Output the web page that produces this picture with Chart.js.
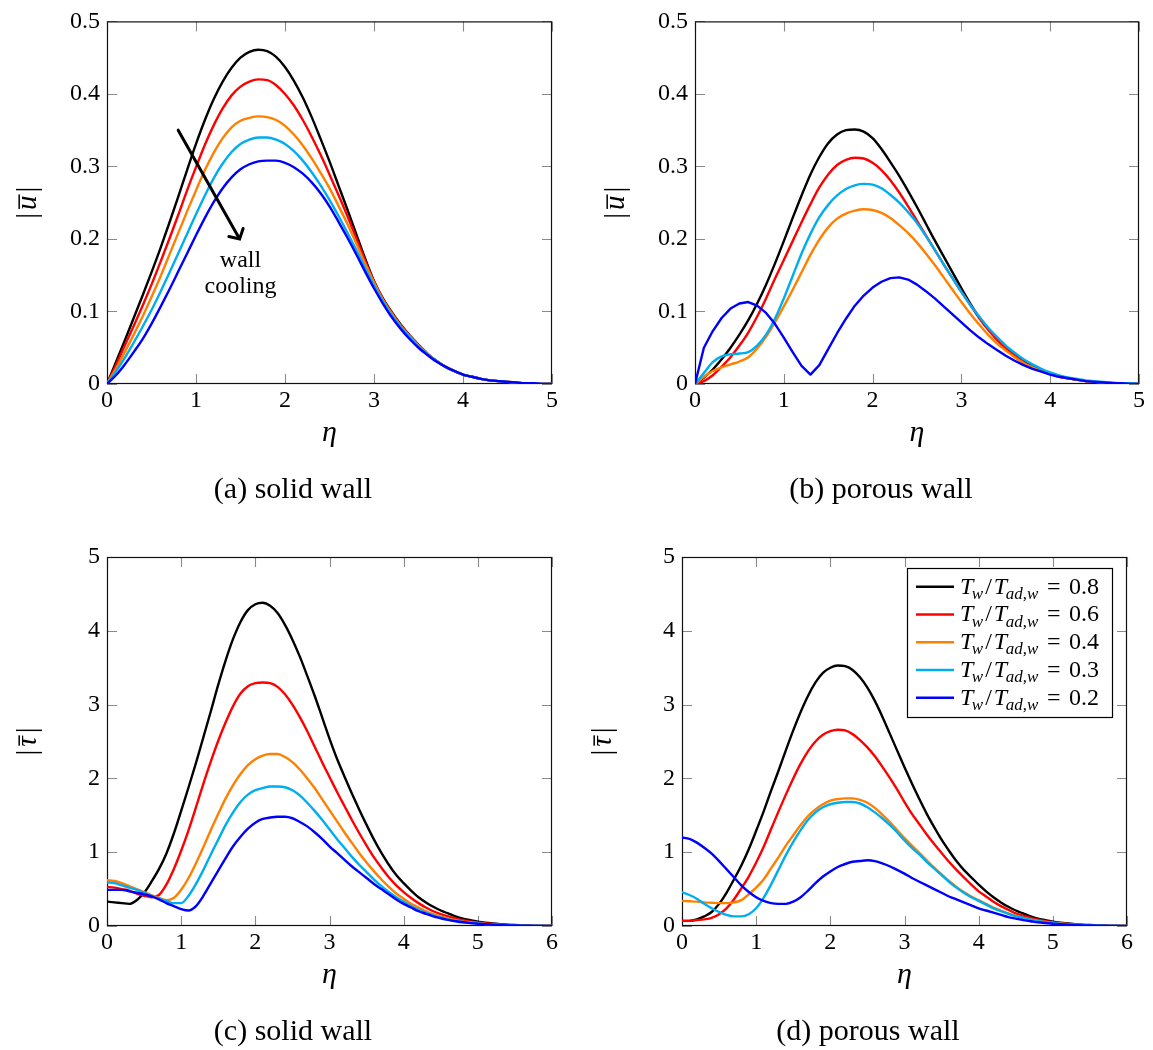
<!DOCTYPE html>
<html>
<head>
<meta charset="utf-8">
<title>Mean disturbance profiles</title>
<script src="https://cdn.jsdelivr.net/npm/chart.js@4.4.1/dist/chart.umd.min.js"></script>
<style>
  html, body { margin: 0; padding: 0; background: #ffffff; }
  #figure { position: relative; width: 1153px; height: 1050px; overflow: hidden; background: #ffffff; }
  #figure canvas { position: absolute; }
</style>
</head>
<body>
<div id="figure">
  <canvas id="panelA" width="576" height="520" style="left:0px;top:0px;width:576px;height:520px"></canvas>
  <canvas id="panelB" width="577" height="520" style="left:576px;top:0px;width:577px;height:520px"></canvas>
  <canvas id="panelC" width="576" height="530" style="left:0px;top:520px;width:576px;height:530px"></canvas>
  <canvas id="panelD" width="577" height="530" style="left:576px;top:520px;width:577px;height:530px"></canvas>
</div>
<script>
// ---------------------------------------------------------------------------
// Wall-normal coordinate grids
// ---------------------------------------------------------------------------
const etaU = [0, 0.1, 0.2, 0.3, 0.4, 0.5, 0.6, 0.7, 0.8, 0.9, 1.0,
  1.1, 1.2, 1.3, 1.4, 1.5, 1.6, 1.7, 1.8, 1.9, 2.0,
  2.1, 2.2, 2.3, 2.4, 2.5, 2.6, 2.7, 2.8, 2.9, 3.0,
  3.1, 3.2, 3.3, 3.4, 3.5, 3.6, 3.7, 3.8, 3.9, 4.0,
  4.1, 4.2, 4.3, 4.4, 4.5, 4.6, 4.7, 4.8, 4.9, 5.0];

const etaT = [0, 0.1, 0.2, 0.3, 0.4, 0.5, 0.6, 0.7, 0.8, 0.9, 1.0,
  1.1, 1.2, 1.3, 1.4, 1.5, 1.6, 1.7, 1.8, 1.9, 2.0,
  2.1, 2.2, 2.3, 2.4, 2.5, 2.6, 2.7, 2.8, 2.9, 3.0,
  3.1, 3.2, 3.3, 3.4, 3.5, 3.6, 3.7, 3.8, 3.9, 4.0,
  4.1, 4.2, 4.3, 4.4, 4.5, 4.6, 4.7, 4.8, 4.9, 5.0,
  5.1, 5.2, 5.3, 5.4, 5.5, 5.6, 5.7, 5.8, 5.9, 6.0];

// Wall-temperature ratios T_w / T_ad,w (one curve per ratio)
const ratios = ['0.8', '0.6', '0.4', '0.3', '0.2'];

// ---------------------------------------------------------------------------
// (a) |u|, solid wall
// ---------------------------------------------------------------------------
const uSolid08 = [0, 0.030, 0.060, 0.091, 0.122, 0.154, 0.187, 0.222, 0.258, 0.295, 0.331,
  0.364, 0.393, 0.417, 0.436, 0.450, 0.458, 0.461, 0.459, 0.451, 0.437,
  0.418, 0.395, 0.368, 0.338, 0.307, 0.274, 0.241, 0.207, 0.173, 0.142,
  0.118, 0.099, 0.082, 0.067, 0.054, 0.042, 0.032, 0.024, 0.018, 0.013,
  0.010, 0.007, 0.005, 0.004, 0.003, 0.002, 0.001, 0.001, 0, 0];
const uSolid06 = [0, 0.026, 0.053, 0.080, 0.108, 0.137, 0.168, 0.200, 0.233, 0.267, 0.299,
  0.330, 0.357, 0.380, 0.398, 0.410, 0.417, 0.420, 0.419, 0.412, 0.400,
  0.384, 0.364, 0.341, 0.316, 0.289, 0.261, 0.232, 0.201, 0.170, 0.141,
  0.117, 0.098, 0.081, 0.067, 0.054, 0.042, 0.032, 0.024, 0.018, 0.013,
  0.010, 0.007, 0.005, 0.004, 0.003, 0.002, 0.001, 0.001, 0, 0];
const uSolid04 = [0, 0.021, 0.044, 0.068, 0.093, 0.120, 0.148, 0.178, 0.208, 0.238, 0.267,
  0.295, 0.319, 0.339, 0.354, 0.363, 0.367, 0.369, 0.368, 0.364, 0.356,
  0.344, 0.329, 0.311, 0.291, 0.270, 0.246, 0.221, 0.194, 0.166, 0.140,
  0.116, 0.097, 0.080, 0.066, 0.053, 0.042, 0.032, 0.024, 0.018, 0.013,
  0.010, 0.007, 0.005, 0.004, 0.003, 0.002, 0.001, 0.001, 0, 0];
const uSolid03 = [0, 0.017, 0.036, 0.057, 0.079, 0.102, 0.127, 0.153, 0.180, 0.207, 0.234,
  0.260, 0.284, 0.304, 0.320, 0.331, 0.337, 0.340, 0.340, 0.337, 0.331,
  0.321, 0.308, 0.292, 0.274, 0.254, 0.232, 0.209, 0.185, 0.160, 0.136,
  0.114, 0.095, 0.079, 0.065, 0.052, 0.041, 0.032, 0.024, 0.018, 0.013,
  0.010, 0.007, 0.005, 0.004, 0.003, 0.002, 0.001, 0.001, 0, 0];
const uSolid02 = [0, 0.012, 0.027, 0.044, 0.062, 0.083, 0.106, 0.130, 0.155, 0.180, 0.205,
  0.229, 0.251, 0.270, 0.285, 0.296, 0.303, 0.307, 0.308, 0.308, 0.305,
  0.299, 0.290, 0.278, 0.263, 0.245, 0.224, 0.202, 0.179, 0.155, 0.132,
  0.111, 0.092, 0.076, 0.062, 0.050, 0.040, 0.031, 0.024, 0.018, 0.013,
  0.010, 0.007, 0.005, 0.004, 0.003, 0.002, 0.001, 0.001, 0, 0];

// ---------------------------------------------------------------------------
// (b) |u|, porous wall
// ---------------------------------------------------------------------------
const uPorous08 = [0, 0.009, 0.020, 0.034, 0.050, 0.068, 0.088, 0.111, 0.137, 0.166, 0.197,
  0.229, 0.260, 0.289, 0.313, 0.332, 0.344, 0.350, 0.351, 0.348, 0.339,
  0.324, 0.306, 0.287, 0.266, 0.244, 0.221, 0.198, 0.176, 0.154, 0.132,
  0.111, 0.092, 0.076, 0.062, 0.050, 0.040, 0.031, 0.024, 0.019, 0.014,
  0.011, 0.008, 0.006, 0.004, 0.003, 0.002, 0.001, 0.001, 0, 0];
const uPorous06 = [0, 0.004, 0.012, 0.024, 0.037, 0.053, 0.071, 0.093, 0.118, 0.145, 0.171,
  0.197, 0.223, 0.248, 0.271, 0.289, 0.302, 0.309, 0.312, 0.311, 0.305,
  0.295, 0.281, 0.264, 0.245, 0.225, 0.205, 0.185, 0.165, 0.146, 0.127,
  0.109, 0.091, 0.075, 0.061, 0.049, 0.039, 0.030, 0.023, 0.018, 0.014,
  0.010, 0.008, 0.006, 0.004, 0.003, 0.002, 0.001, 0.001, 0, 0];
const uPorous04 = [0, 0.010, 0.018, 0.023, 0.027, 0.031, 0.037, 0.049, 0.065, 0.085, 0.107,
  0.130, 0.154, 0.178, 0.199, 0.216, 0.228, 0.235, 0.239, 0.241, 0.240,
  0.236, 0.229, 0.219, 0.208, 0.195, 0.180, 0.164, 0.147, 0.130, 0.113,
  0.097, 0.082, 0.068, 0.056, 0.046, 0.037, 0.029, 0.023, 0.018, 0.014,
  0.010, 0.008, 0.006, 0.004, 0.003, 0.002, 0.001, 0.001, 0, 0];
const uPorous03 = [0, 0.015, 0.030, 0.038, 0.041, 0.042, 0.044, 0.053, 0.068, 0.090, 0.118,
  0.149, 0.180, 0.207, 0.230, 0.247, 0.260, 0.269, 0.274, 0.276, 0.275,
  0.270, 0.261, 0.250, 0.237, 0.222, 0.204, 0.185, 0.165, 0.146, 0.127,
  0.109, 0.093, 0.078, 0.065, 0.053, 0.043, 0.034, 0.027, 0.021, 0.016,
  0.012, 0.009, 0.007, 0.005, 0.004, 0.003, 0.002, 0.001, 0.001, 0];
const uPorous02 = [0, 0.050, 0.073, 0.091, 0.104, 0.111, 0.113, 0.108, 0.098, 0.083, 0.064,
  0.044, 0.025, 0.013, 0.026, 0.048, 0.070, 0.090, 0.108, 0.122, 0.133,
  0.141, 0.146, 0.147, 0.144, 0.137, 0.128, 0.118, 0.107, 0.096, 0.085,
  0.074, 0.064, 0.055, 0.047, 0.039, 0.032, 0.026, 0.021, 0.017, 0.013,
  0.010, 0.008, 0.006, 0.004, 0.003, 0.002, 0.001, 0.001, 0, 0];

// ---------------------------------------------------------------------------
// (c) |tau|, solid wall
// ---------------------------------------------------------------------------
const tSolid08 = [0.33, 0.32, 0.31, 0.30, 0.35, 0.45, 0.60, 0.77, 0.98, 1.25, 1.56,
  1.88, 2.21, 2.56, 2.91, 3.27, 3.60, 3.89, 4.12, 4.28, 4.36,
  4.38, 4.34, 4.24, 4.08, 3.88, 3.65, 3.39, 3.12, 2.83, 2.54,
  2.27, 2.03, 1.80, 1.58, 1.37, 1.17, 0.99, 0.83, 0.69, 0.58,
  0.48, 0.39, 0.32, 0.26, 0.21, 0.17, 0.13, 0.10, 0.08, 0.06,
  0.045, 0.034, 0.025, 0.018, 0.013, 0.009, 0.006, 0.004, 0.002, 0.001];
const tSolid06 = [0.53, 0.52, 0.50, 0.48, 0.44, 0.41, 0.39, 0.42, 0.56, 0.77, 1.02,
  1.30, 1.61, 1.93, 2.23, 2.51, 2.76, 2.98, 3.15, 3.25, 3.29,
  3.30, 3.29, 3.24, 3.14, 3.00, 2.83, 2.64, 2.43, 2.22, 2.02,
  1.82, 1.63, 1.44, 1.26, 1.09, 0.93, 0.79, 0.66, 0.55, 0.46,
  0.38, 0.31, 0.25, 0.20, 0.16, 0.13, 0.10, 0.08, 0.06, 0.047,
  0.036, 0.027, 0.020, 0.015, 0.011, 0.008, 0.005, 0.003, 0.002, 0.001];
const tSolid04 = [0.62, 0.61, 0.58, 0.54, 0.50, 0.46, 0.42, 0.38, 0.35, 0.38, 0.49,
  0.65, 0.85, 1.07, 1.30, 1.52, 1.73, 1.91, 2.06, 2.18, 2.26,
  2.31, 2.33, 2.33, 2.29, 2.22, 2.12, 2.00, 1.87, 1.72, 1.57,
  1.42, 1.27, 1.13, 0.99, 0.86, 0.74, 0.63, 0.53, 0.44, 0.37,
  0.30, 0.25, 0.20, 0.16, 0.13, 0.10, 0.08, 0.06, 0.05, 0.037,
  0.028, 0.021, 0.015, 0.011, 0.008, 0.006, 0.004, 0.003, 0.002, 0.001];
const tSolid03 = [0.59, 0.58, 0.55, 0.52, 0.49, 0.45, 0.41, 0.37, 0.34, 0.31, 0.31,
  0.41, 0.57, 0.76, 0.97, 1.17, 1.37, 1.54, 1.68, 1.78, 1.84,
  1.87, 1.89, 1.89, 1.88, 1.84, 1.77, 1.67, 1.56, 1.44, 1.31,
  1.18, 1.06, 0.94, 0.83, 0.73, 0.63, 0.54, 0.46, 0.39, 0.33,
  0.27, 0.22, 0.18, 0.145, 0.115, 0.09, 0.07, 0.055, 0.043, 0.033,
  0.025, 0.019, 0.014, 0.010, 0.007, 0.005, 0.004, 0.003, 0.002, 0.001];
const tSolid02 = [0.49, 0.49, 0.49, 0.47, 0.45, 0.43, 0.40, 0.36, 0.31, 0.27, 0.23,
  0.21, 0.27, 0.41, 0.58, 0.75, 0.92, 1.08, 1.21, 1.32, 1.40,
  1.45, 1.47, 1.48, 1.48, 1.46, 1.41, 1.35, 1.27, 1.18, 1.08,
  0.99, 0.90, 0.81, 0.73, 0.65, 0.57, 0.50, 0.43, 0.36, 0.30,
  0.25, 0.20, 0.165, 0.13, 0.105, 0.083, 0.065, 0.05, 0.039, 0.03,
  0.023, 0.017, 0.013, 0.009, 0.007, 0.005, 0.003, 0.002, 0.001, 0.001];

// ---------------------------------------------------------------------------
// (d) |tau|, porous wall
// ---------------------------------------------------------------------------
const tPorous08 = [0.07, 0.07, 0.09, 0.13, 0.19, 0.30, 0.45, 0.63, 0.82, 1.04, 1.29,
  1.55, 1.83, 2.10, 2.38, 2.65, 2.90, 3.12, 3.30, 3.43, 3.50,
  3.53, 3.52, 3.47, 3.37, 3.23, 3.05, 2.84, 2.61, 2.38, 2.15,
  1.93, 1.72, 1.52, 1.34, 1.17, 1.02, 0.88, 0.76, 0.66, 0.56,
  0.47, 0.39, 0.32, 0.26, 0.21, 0.17, 0.13, 0.10, 0.08, 0.06,
  0.045, 0.034, 0.025, 0.018, 0.013, 0.009, 0.006, 0.004, 0.002, 0.001];
const tPorous06 = [0.07, 0.07, 0.08, 0.09, 0.11, 0.16, 0.24, 0.36, 0.51, 0.67, 0.86,
  1.07, 1.31, 1.55, 1.78, 2.00, 2.20, 2.37, 2.50, 2.59, 2.64,
  2.66, 2.65, 2.60, 2.52, 2.42, 2.30, 2.16, 2.01, 1.85, 1.68,
  1.52, 1.38, 1.24, 1.11, 0.99, 0.87, 0.76, 0.66, 0.56, 0.47,
  0.40, 0.33, 0.27, 0.22, 0.17, 0.14, 0.11, 0.085, 0.065, 0.05,
  0.038, 0.028, 0.021, 0.015, 0.011, 0.008, 0.005, 0.003, 0.002, 0.001];
const tPorous04 = [0.34, 0.335, 0.33, 0.32, 0.315, 0.31, 0.31, 0.32, 0.35, 0.43, 0.52,
  0.63, 0.78, 0.93, 1.09, 1.23, 1.37, 1.49, 1.58, 1.65, 1.70,
  1.72, 1.73, 1.73, 1.71, 1.67, 1.60, 1.51, 1.41, 1.30, 1.19,
  1.09, 0.99, 0.89, 0.79, 0.70, 0.61, 0.53, 0.46, 0.40, 0.35,
  0.30, 0.25, 0.21, 0.17, 0.14, 0.11, 0.09, 0.07, 0.055, 0.043,
  0.033, 0.025, 0.018, 0.013, 0.009, 0.006, 0.004, 0.003, 0.002, 0.001];
const tPorous03 = [0.46, 0.42, 0.37, 0.30, 0.24, 0.19, 0.15, 0.13, 0.13, 0.16, 0.24,
  0.38, 0.56, 0.76, 0.96, 1.14, 1.30, 1.44, 1.54, 1.61, 1.65,
  1.67, 1.68, 1.68, 1.66, 1.61, 1.54, 1.46, 1.37, 1.27, 1.16,
  1.06, 0.97, 0.87, 0.78, 0.69, 0.60, 0.52, 0.45, 0.39, 0.34,
  0.29, 0.24, 0.20, 0.165, 0.135, 0.11, 0.085, 0.068, 0.053, 0.041,
  0.031, 0.023, 0.017, 0.012, 0.009, 0.006, 0.004, 0.003, 0.002, 0.001];
const tPorous02 = [1.20, 1.18, 1.13, 1.06, 0.98, 0.88, 0.77, 0.66, 0.55, 0.46, 0.39,
  0.34, 0.31, 0.30, 0.30, 0.33, 0.39, 0.48, 0.58, 0.67, 0.74,
  0.80, 0.84, 0.87, 0.88, 0.89, 0.88, 0.85, 0.81, 0.76, 0.71,
  0.65, 0.60, 0.55, 0.50, 0.45, 0.40, 0.36, 0.32, 0.28, 0.24,
  0.21, 0.18, 0.15, 0.12, 0.10, 0.08, 0.065, 0.05, 0.04, 0.03,
  0.023, 0.017, 0.013, 0.009, 0.007, 0.005, 0.003, 0.002, 0.001, 0.001];

// Tick labels
const uTickLabels = ['0', '0.1', '0.2', '0.3', '0.4', '0.5'];
const tauTickLabels = ['0', '1', '2', '3', '4', '5'];
const etaTickLabelsU = ['0', '1', '2', '3', '4', '5'];
const etaTickLabelsT = ['0', '1', '2', '3', '4', '5', '6'];

// "wall cooling" note in panel (a), in data coordinates
const coolArrowTail = [0.8, 0.35];
const coolArrowHead = [1.49, 0.20];
const coolNoteLines = ['wall', 'cooling'];
const coolNoteAnchor = [1.5, 0.162, 0.125];   // eta, baseline of line 1, baseline of line 2

// ---------------------------------------------------------------------------
// Styling
// ---------------------------------------------------------------------------
const lineColors = ['#000000', '#ff0000', '#ff8000', '#00aeef', '#0000ff'];
const SERIF = '"Liberation Serif", "DejaVu Serif", serif';
const TICK_FONT = 24;
const TITLE_FONT = 30;
const CAPTION_FONT = 30;

function fontStr(size, italic) {
  return (italic ? 'italic ' : '') + size + 'px ' + SERIF;
}

// |q| with an overbar, written bottom-to-top beside the y axis
function drawYTitle(ctx, cx, cy, sym) {
  ctx.save();
  ctx.translate(cx, cy);
  ctx.rotate(-Math.PI / 2);
  const fs = 29;
  ctx.fillStyle = '#000';
  ctx.textBaseline = 'alphabetic';
  ctx.font = fontStr(fs, false);
  const wb = ctx.measureText('|').width;
  ctx.font = fontStr(fs, true);
  const ws = ctx.measureText(sym).width;
  const gap = 3;
  const total = wb * 2 + ws + gap * 2;
  const base = fs * 0.27;
  let x0 = -total / 2;
  ctx.font = fontStr(fs, false);
  ctx.fillText('|', x0, base);
  x0 += wb + gap;
  ctx.font = fontStr(fs, true);
  ctx.fillText(sym, x0, base);
  ctx.fillRect(x0 + 1, base - fs * 0.60, ws, 1.5);
  x0 += ws + gap;
  ctx.font = fontStr(fs, false);
  ctx.fillText('|', x0, base);
  ctx.restore();
}

// T_w / T_{ad,w} = value
function drawRatioLabel(ctx, x, y, value, fs) {
  const sub = Math.round(fs * 0.72);
  const drop = fs * 0.22;
  ctx.textBaseline = 'alphabetic';
  ctx.fillStyle = '#000';
  let cx = x;
  const put = (txt, size, italic, dy, kern) => {
    ctx.font = fontStr(size, italic);
    cx += kern || 0;
    ctx.fillText(txt, cx, y + dy);
    cx += ctx.measureText(txt).width;
  };
  put('T', fs, true, 0, 0);
  put('w', sub, true, drop, -1.5);
  put('/', fs, false, 0, 2);
  put('T', fs, true, 0, 2);
  put('ad', sub, true, drop, -1.5);
  put(',', sub, false, drop, 0);
  put('w', sub, true, drop, 0);
  put('=', fs, false, 0, fs * 0.36);
  put(value, fs, false, 0, fs * 0.36);
}

// Axis frame, inward tick marks, titles, captions and per-panel extras
const decorPlugin = {
  id: 'decor',
  beforeDatasetsDraw(chart, args, opts) {
    const { ctx, chartArea: a, scales: { x, y } } = chart;
    ctx.save();
    ctx.strokeStyle = '#8a8a8a';
    ctx.lineWidth = 1.1;
    const TL = 10;
    ctx.beginPath();
    x.ticks.forEach(t => {
      const px = Math.round(x.getPixelForValue(t.value)) + 0.5;
      ctx.moveTo(px, a.bottom); ctx.lineTo(px, a.bottom - TL);
      ctx.moveTo(px, a.top); ctx.lineTo(px, a.top + TL);
    });
    y.ticks.forEach(t => {
      const py = Math.round(y.getPixelForValue(t.value)) + 0.5;
      ctx.moveTo(a.left, py); ctx.lineTo(a.left + TL, py);
      ctx.moveTo(a.right, py); ctx.lineTo(a.right - TL, py);
    });
    ctx.stroke();
    ctx.strokeStyle = '#111111';
    ctx.lineWidth = 1.2;
    ctx.strokeRect(a.left + 0.5, a.top + 0.5, a.right - a.left - 1, a.bottom - a.top - 1);
    ctx.restore();
  },
  afterDraw(chart, args, opts) {
    const { ctx, chartArea: a, scales: { x, y } } = chart;
    ctx.save();
    // y title
    drawYTitle(ctx, a.left - 79, (a.top + a.bottom) / 2, opts.quantity);
    // x title
    ctx.fillStyle = '#000';
    ctx.textAlign = 'center';
    ctx.textBaseline = 'alphabetic';
    ctx.font = fontStr(TITLE_FONT, true);
    ctx.fillText('\u03b7', (a.left + a.right) / 2, a.bottom + 57);
    // caption
    ctx.font = fontStr(CAPTION_FONT, false);
    ctx.fillText(opts.caption, a.left + 186, a.bottom + 114);

    if (opts.coolingNote) {
      const x0 = x.getPixelForValue(coolArrowTail[0]), y0 = y.getPixelForValue(coolArrowTail[1]);
      const x1 = x.getPixelForValue(coolArrowHead[0]), y1 = y.getPixelForValue(coolArrowHead[1]);
      ctx.strokeStyle = '#000';
      ctx.lineWidth = 3;
      ctx.lineCap = 'round';
      ctx.beginPath();
      ctx.moveTo(x0, y0); ctx.lineTo(x1, y1);
      const back = Math.atan2(y0 - y1, x0 - x1);
      const spread = 48 * Math.PI / 180, len = 11;
      ctx.moveTo(x1 + len * Math.cos(back - spread), y1 + len * Math.sin(back - spread));
      ctx.lineTo(x1, y1);
      ctx.lineTo(x1 + len * Math.cos(back + spread), y1 + len * Math.sin(back + spread));
      ctx.stroke();
      ctx.font = fontStr(24, false);
      ctx.textAlign = 'center';
      const nx = x.getPixelForValue(coolNoteAnchor[0]);
      ctx.fillText(coolNoteLines[0], nx, y.getPixelForValue(coolNoteAnchor[1]));
      ctx.fillText(coolNoteLines[1], nx, y.getPixelForValue(coolNoteAnchor[2]));
    }

    if (opts.legend) {
      const bw = 205, bh = 149;
      const bl = a.right - 220, bt = a.top + 11;
      ctx.fillStyle = '#ffffff';
      ctx.fillRect(bl, bt, bw, bh);
      ctx.strokeStyle = '#000';
      ctx.lineWidth = 1.2;
      ctx.strokeRect(bl + 0.5, bt + 0.5, bw, bh);
      ctx.textAlign = 'left';
      chart.data.datasets.forEach((ds, i) => {
        const ry = bt + 18.7 + i * 27.75;
        ctx.strokeStyle = ds.borderColor;
        ctx.lineWidth = 2.4;
        ctx.lineCap = 'butt';
        ctx.beginPath();
        ctx.moveTo(bl + 9, ry); ctx.lineTo(bl + 47, ry);
        ctx.stroke();
        drawRatioLabel(ctx, bl + 53, ry + 7, ds.label, 24);
      });
    }
    ctx.restore();
  }
};

// sharpCurves: series drawn as straight segments (kept sharp at cusps)
function buildPanel(canvasId, eta, series, cfg) {
  const canvas = document.getElementById(canvasId);
  const W = canvas.width, H = canvas.height;
  const area = cfg.area;
  const sharp = cfg.sharpCurves || [];
  const datasets = series.map((vals, i) => ({
    label: ratios[i],
    data: eta.map((e, k) => ({ x: e, y: vals[k] })),
    borderColor: lineColors[i],
    backgroundColor: lineColors[i],
    borderWidth: 2.4,
    pointRadius: 0,
    cubicInterpolationMode: sharp.includes(i) ? 'default' : 'monotone',
    tension: sharp.includes(i) ? 0 : 0.4,
    fill: false,
    order: series.length - 1 - i
  }));
  return new Chart(canvas, {
    type: 'line',
    data: { datasets },
    plugins: [decorPlugin],
    options: {
      responsive: false,
      animation: false,
      devicePixelRatio: 1,
      events: [],
      layout: { padding: { left: 0, top: area.top, right: W - area.right, bottom: 0 } },
      plugins: {
        legend: { display: false },
        tooltip: { enabled: false },
        decor: {
          quantity: cfg.quantity,
          caption: cfg.caption,
          coolingNote: !!cfg.coolingNote,
          legend: !!cfg.legend
        }
      },
      elements: { line: { borderJoinStyle: 'round', borderCapStyle: 'round' } },
      scales: {
        x: {
          type: 'linear',
          min: 0,
          max: cfg.xMax,
          afterFit(s) { s.height = H - area.bottom; },
          grid: { display: false, drawTicks: false },
          border: { display: false },
          ticks: {
            stepSize: 1,
            autoSkip: false,
            maxRotation: 0,
            padding: 2,
            color: '#000',
            font: { family: SERIF, size: TICK_FONT },
            callback: (v, i) => cfg.xLabels[i]
          }
        },
        y: {
          type: 'linear',
          min: 0,
          max: cfg.yMax,
          afterFit(s) { s.width = area.left; },
          grid: { display: false, drawTicks: false },
          border: { display: false },
          ticks: {
            stepSize: cfg.yStep,
            autoSkip: false,
            padding: 7,
            color: '#000',
            font: { family: SERIF, size: TICK_FONT },
            callback: (v, i) => cfg.yLabels[i]
          }
        }
      }
    }
  });
}

buildPanel('panelA', etaU, [uSolid08, uSolid06, uSolid04, uSolid03, uSolid02], {
  area: { left: 107, top: 16, right: 552, bottom: 384 },
  xMax: 5, yMax: 0.5, yStep: 0.1,
  xLabels: etaTickLabelsU, yLabels: uTickLabels,
  quantity: 'u', caption: '(a) solid wall', coolingNote: true
});
buildPanel('panelB', etaU, [uPorous08, uPorous06, uPorous04, uPorous03, uPorous02], {
  area: { left: 119, top: 16, right: 563, bottom: 384 },
  xMax: 5, yMax: 0.5, yStep: 0.1,
  xLabels: etaTickLabelsU, yLabels: uTickLabels,
  quantity: 'u', caption: '(b) porous wall', sharpCurves: [4]
});
buildPanel('panelC', etaT, [tSolid08, tSolid06, tSolid04, tSolid03, tSolid02], {
  area: { left: 107, top: 37, right: 552, bottom: 406 },
  xMax: 6, yMax: 5, yStep: 1,
  xLabels: etaTickLabelsT, yLabels: tauTickLabels,
  quantity: '\u03c4', caption: '(c) solid wall'
});
buildPanel('panelD', etaT, [tPorous08, tPorous06, tPorous04, tPorous03, tPorous02], {
  area: { left: 106, top: 37, right: 551, bottom: 406 },
  xMax: 6, yMax: 5, yStep: 1,
  xLabels: etaTickLabelsT, yLabels: tauTickLabels,
  quantity: '\u03c4', caption: '(d) porous wall', legend: true
});
</script>
</body>
</html>
